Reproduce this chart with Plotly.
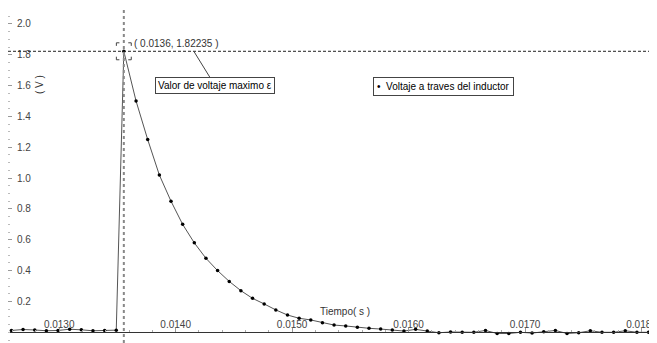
""" Voltaje a traves del inductor - grafico con plotly """
import plotly.graph_objects as go

# tiempo (s) de cada muestra
TIEMPO = [
    0.01259, 0.01269, 0.01279, 0.01289, 0.01299, 0.01309, 0.01319, 0.01329,
    0.01339, 0.01349,
    0.013555,
    0.01366, 0.01376, 0.01386, 0.01396, 0.01406, 0.01416, 0.01426, 0.01436,
    0.01446, 0.01456, 0.01466, 0.01476, 0.01486, 0.01496, 0.01506, 0.01516,
    0.01526, 0.01536, 0.01546, 0.01556, 0.01566, 0.01576, 0.01586, 0.01596,
    0.01606, 0.01616, 0.01626, 0.01636, 0.01646, 0.01656, 0.01666, 0.01676,
    0.01686, 0.01696, 0.01706, 0.01716, 0.01726, 0.01736, 0.01746, 0.01756,
    0.01766, 0.01776, 0.01786, 0.01796, 0.01806,
]
# voltaje (V) de cada muestra
VOLTAJE = [
    0.012, 0.018, 0.015, 0.010, 0.012, 0.020, 0.016, 0.010, 0.012, 0.014,
    1.82235,
    1.50, 1.25, 1.02, 0.85, 0.70, 0.58, 0.48, 0.40, 0.33, 0.27, 0.22, 0.184,
    0.145, 0.112, 0.091, 0.080, 0.062, 0.047, 0.041, 0.032, 0.026, 0.021,
    0.015, 0.008, 0.019, 0.008, -0.003, 0.002, 0.0, 0.0, 0.012, -0.008,
    -0.008, 0.0, -0.005, 0.003, 0.012, -0.008, -0.003, 0.010, 0.0, 0.0,
    0.010, 0.0, 0.0,
]
T_MAX = 0.013555
V_MAX = 1.82235
X_TICKS = [0.0130, 0.0140, 0.0150, 0.0160, 0.0170, 0.0180]
X_TICK_TEXT = ["0.0130", "0.0140", "0.0150", "0.0160", "0.0170", "0.0180"]
Y_TICKS = [0.2, 0.4, 0.6, 0.8, 1.0, 1.2, 1.4, 1.6, 1.8, 2.0]

X_RANGE = [0.0125606, 0.0180981]
Y_RANGE = [-0.0694, 2.1031]
FONT = "Liberation Sans, Arial, sans-serif"
TXT = "#333333"

fig = go.Figure()
fig.add_trace(go.Scatter(x=TIEMPO, y=VOLTAJE, mode="lines+markers",
                         line=dict(color="#555555", width=1),
                         marker=dict(color="black", size=3.5),
                         showlegend=False))

# lineas guia del maximo
fig.add_shape(type="line", xref="x", yref="paper", x0=T_MAX, x1=T_MAX,
              y0=0, y1=1, line=dict(color="#888888", width=2, dash="dot"))
fig.add_shape(type="line", xref="paper", yref="y", x0=0, x1=1,
              y0=V_MAX, y1=V_MAX,
              line=dict(color="#222222", width=1, dash="3px,2px"))

# esquinas alrededor del punto maximo
dx, dy = 0.000064, 0.055
lx, ly = 0.000026, 0.02
for sx in (-1, 1):
    for sy in (-1, 1):
        cx, cy = T_MAX + sx * dx, V_MAX + sy * dy
        fig.add_shape(type="line", x0=cx, x1=cx - sx * lx, y0=cy, y1=cy,
                      line=dict(color="#444444", width=1))
        fig.add_shape(type="line", x0=cx, x1=cx, y0=cy, y1=cy - sy * ly,
                      line=dict(color="#444444", width=1))

fig.add_annotation(x=0.013627, y=1.870, xref="x", yref="y",
                   text="( 0.0136, 1.82235 )", showarrow=False,
                   xanchor="left", yanchor="middle",
                   font=dict(family=FONT, size=10, color=TXT))
fig.add_annotation(x=0.014156, y=V_MAX, xref="x", yref="y",
                   text="Valor de voltaje maximo ε", showarrow=True,
                   arrowhead=0, arrowwidth=1, arrowcolor="#444444",
                   ax=21, ay=34, bordercolor="#444444", borderwidth=1,
                   borderpad=2, bgcolor="white",
                   font=dict(family=FONT, size=10, color="black"))
fig.add_annotation(x=0.012836, y=1.604, xref="x", yref="y", text="( V )",
                   textangle=-90, showarrow=False,
                   font=dict(family=FONT, size=10, color=TXT))
fig.add_annotation(x=0.015451, y=0.138, xref="x", yref="y",
                   text="Tiempo( s )", showarrow=False,
                   font=dict(family=FONT, size=10, color=TXT))
fig.add_annotation(x=0.015692, y=1.597, xref="x", yref="y",
                   text="•  Voltaje a traves del inductor", showarrow=False,
                   xanchor="left", bordercolor="#444444", borderwidth=1,
                   borderpad=3, bgcolor="white",
                   font=dict(family=FONT, size=10, color="black"))

fig.update_layout(
    width=649, height=335, margin=dict(l=0, r=0, t=0, b=0),
    plot_bgcolor="white", paper_bgcolor="white",
    font=dict(family=FONT, size=10, color=TXT),
    xaxis=dict(range=X_RANGE, showgrid=False, zeroline=False,
               anchor="free",
               position=(0 - Y_RANGE[0]) / (Y_RANGE[1] - Y_RANGE[0]),
               showline=True, linecolor="#333333", linewidth=1,
               tickvals=X_TICKS, ticktext=X_TICK_TEXT, ticks="inside",
               ticklen=4, tickcolor="#999999", ticklabelposition="inside",
               ticklabelstandoff=-3, ticklabeloverflow="allow",
               minor=dict(dtick=0.0002, tick0=0.0130, ticks="inside",
                          ticklen=2, tickcolor="#aaaaaa")),
    yaxis=dict(range=Y_RANGE, showgrid=False, zeroline=False,
               showline=True, linecolor="#bbbbbb", linewidth=1,
               tickvals=Y_TICKS, tickformat=".1f", ticks="inside",
               ticklen=4, tickcolor="#999999", ticklabelposition="inside",
               ticklabelstandoff=4, ticklabeloverflow="allow",
               minor=dict(dtick=0.05, tick0=0, ticks="inside", ticklen=2,
                          tickcolor="#bbbbbb")),
)

fig.write_html("out.html")
